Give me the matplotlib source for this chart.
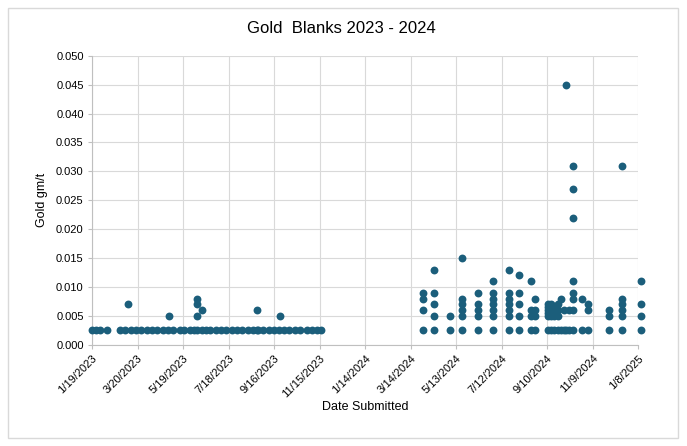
import numpy as np
import pandas as pd
import matplotlib
matplotlib.use("Agg")
import matplotlib.pyplot as plt
from matplotlib.patches import Rectangle

plt.rcParams["font.family"] = ["Liberation Sans Narrow", "Liberation Sans", "DejaVu Sans"]

# submission dates and the gold values (gm/t) reported on each
dates = [
    "2023-01-19", "2023-01-24", "2023-01-29", "2023-02-08", "2023-02-25",
    "2023-03-04", "2023-03-07", "2023-03-11", "2023-03-18", "2023-03-25",
    "2023-04-01", "2023-04-08", "2023-04-15", "2023-04-22", "2023-04-29",
    "2023-05-01", "2023-05-06", "2023-05-15", "2023-05-20", "2023-05-28",
    "2023-06-03", "2023-06-07", "2023-06-13", "2023-06-18", "2023-06-23",
    "2023-07-01", "2023-07-08", "2023-07-15", "2023-07-22", "2023-07-29",
    "2023-08-05", "2023-08-12", "2023-08-19", "2023-08-25", "2023-08-26",
    "2023-09-02", "2023-09-09", "2023-09-16", "2023-09-22", "2023-09-24",
    "2023-09-29", "2023-10-06", "2023-10-13", "2023-10-20", "2023-10-29",
    "2023-11-05", "2023-11-12", "2023-11-17",
    "2024-03-30", "2024-04-14", "2024-05-05", "2024-05-21", "2024-06-11",
    "2024-07-01", "2024-07-21", "2024-08-04", "2024-08-20", "2024-08-25",
    "2024-09-11", "2024-09-15", "2024-09-19", "2024-09-24", "2024-09-28",
    "2024-10-02", "2024-10-05", "2024-10-09", "2024-10-14", "2024-10-26",
    "2024-11-03", "2024-12-01", "2024-12-17", "2025-01-12",
]
values = [
    [0.0025], [0.0025], [0.0025], [0.0025], [0.0025],
    [0.0025], [0.007], [0.0025], [0.0025], [0.0025],
    [0.0025], [0.0025], [0.0025], [0.0025], [0.0025],
    [0.005], [0.0025], [0.0025], [0.0025], [0.0025],
    [0.0025], [0.008, 0.007, 0.005, 0.0025], [0.006, 0.0025], [0.0025], [0.0025],
    [0.0025], [0.0025], [0.0025], [0.0025], [0.0025],
    [0.0025], [0.0025], [0.0025], [0.006, 0.0025], [0.0025],
    [0.0025], [0.0025], [0.0025], [0.0025], [0.005],
    [0.0025], [0.0025], [0.0025], [0.0025], [0.0025],
    [0.0025], [0.0025], [0.0025],
    [0.009, 0.008, 0.006, 0.0025],
    [0.013, 0.009, 0.007, 0.005, 0.0025],
    [0.005, 0.0025],
    [0.015, 0.008, 0.007, 0.006, 0.005, 0.0025],
    [0.009, 0.007, 0.006, 0.005, 0.0025],
    [0.011, 0.009, 0.008, 0.007, 0.006, 0.005, 0.0025],
    [0.013, 0.009, 0.008, 0.007, 0.006, 0.005, 0.0025],
    [0.012, 0.009, 0.007, 0.005, 0.0025],
    [0.011, 0.006, 0.005, 0.0025],
    [0.008, 0.006, 0.005, 0.0025],
    [0.007, 0.0065, 0.006, 0.0055, 0.005, 0.0025],
    [0.007, 0.006, 0.005, 0.0025],
    [0.0065, 0.006, 0.0055, 0.005, 0.0025],
    [0.007, 0.006, 0.005, 0.0025],
    [0.008, 0.0025],
    [0.006, 0.0025],
    [0.045, 0.0025],
    [0.006, 0.0025],
    [0.031, 0.027, 0.022, 0.011, 0.009, 0.008, 0.006, 0.0025],
    [0.008, 0.0025],
    [0.007, 0.006, 0.0025],
    [0.006, 0.005, 0.0025],
    [0.031, 0.008, 0.007, 0.006, 0.005, 0.0025],
    [0.011, 0.007, 0.005, 0.0025],
]

x_start = "2023-01-19"
x_end = "2025-01-08"
y_ticks = np.arange(0, 0.0501, 0.005)

xs = []
ys = []
for d, vals in zip(dates, values):
    for v in vals:
        xs.append(pd.Timestamp(d))
        ys.append(v)

fig = plt.figure(figsize=(6.87, 4.46), dpi=100)
fig.patches.append(Rectangle((0.012, 0.018), 0.975, 0.965, transform=fig.transFigure,
                             fill=False, edgecolor="#d9d9d9", linewidth=1))
ax = fig.add_axes([0.134, 0.227, 0.795, 0.648])

ax.scatter(xs, ys, s=32, color="#1b5e7b", zorder=3, clip_on=False, linewidths=0)

ticks = pd.date_range(x_start, x_end, freq="60D")
ax.set_xticks(ticks)
ax.set_xticklabels([f"{t.month}/{t.day}/{t.year}" for t in ticks],
                   rotation=45, ha="right", rotation_mode="anchor", fontsize=8)
ax.set_xlim(pd.Timestamp(x_start), pd.Timestamp(x_end))
ax.set_ylim(0, 0.05)
ax.set_yticks(y_ticks)
ax.set_yticklabels([f"{v:.3f}" for v in y_ticks], fontsize=8)

ax.grid(True, color="#d9d9d9", linewidth=0.8)
ax.set_axisbelow(True)
for side in ["top", "right"]:
    ax.spines[side].set_visible(False)
for side in ["left", "bottom"]:
    ax.spines[side].set_color("#bfbfbf")
ax.tick_params(axis="both", length=3, color="#bfbfbf", pad=3)

# title sits centred on the whole chart, not on the plot area
fig.text(0.497, 0.937, "Gold  Blanks 2023 - 2024", fontsize=12, ha="center", va="center")
ax.set_xlabel("Date Submitted", fontsize=9, labelpad=1)
ax.set_ylabel("Gold gm/t", fontsize=9, labelpad=6)

fig.savefig("out.png", dpi=100)
